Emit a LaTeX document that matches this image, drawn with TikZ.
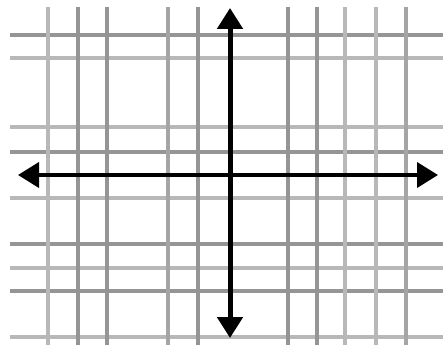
\documentclass[tikz,border=0pt]{standalone}
\usetikzlibrary{arrows.meta}
\definecolor{gdark}{HTML}{959595}
\definecolor{gmid}{HTML}{A5A5A5}
\definecolor{glight}{HTML}{B8B8B8}
\tikzset{
  gridline/.style={line width=4pt},
  axisline/.style={line width=4.5pt,black,{Triangle[length=21pt,width=25pt]}-{Triangle[length=21pt,width=25pt]}}
}
\begin{document}
\begin{tikzpicture}[x=1pt,y=-1pt]
\useasboundingbox (0,0) rectangle (444,345);
\fill[white] (0,0) rectangle (444,345);
% horizontal grid lines
\foreach \y/\c in {35/gdark,58/glight,127/glight,152/gdark,198/glight,244/gdark,268/glight,291/gdark,337/glight}
  \draw[gridline,\c] (10,\y) -- (443,\y);
% vertical grid lines
\foreach \x/\c in {48/glight,78/gdark,107/gdark,168/gmid,198/gdark,288/gdark,317/gdark,345/glight,376/glight,406/gmid}
  \draw[gridline,\c] (\x,7) -- (\x,345);
% axes
\coordinate (xl) at (18,175);
\coordinate (xr) at (438,175);
\coordinate (yt) at (230,8);
\coordinate (yb) at (230,338);
\draw[axisline,line width=4pt] (xl) -- (xr);
\draw[axisline,line width=5pt] (yt) -- (yb);
\end{tikzpicture}
\end{document}
